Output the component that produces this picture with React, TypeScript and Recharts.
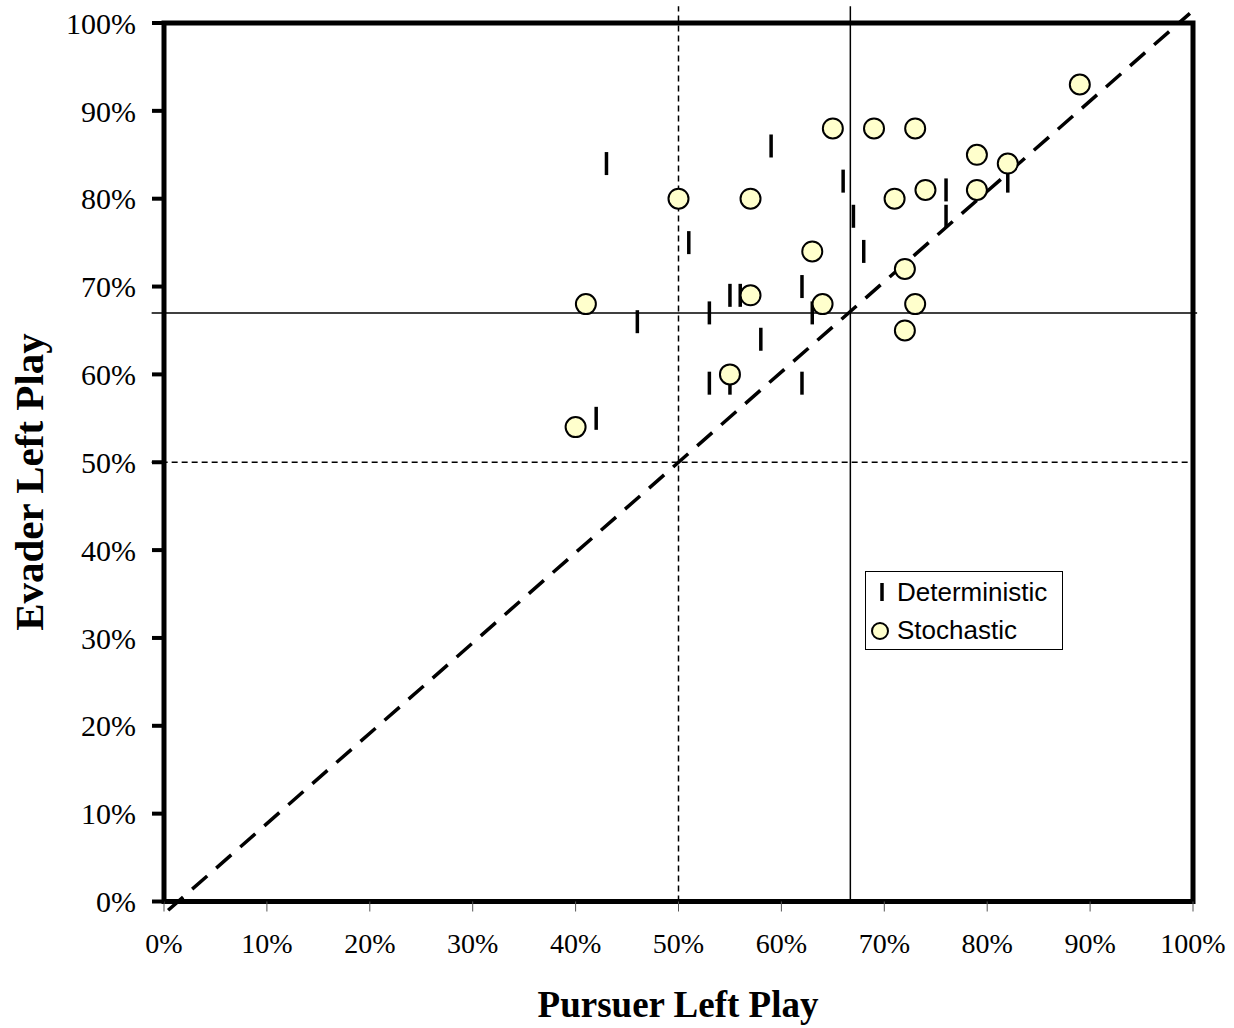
import React from 'react';
import {
  ScatterChart,
  Scatter,
  XAxis,
  YAxis,
  ReferenceLine,
  ReferenceArea,
} from 'recharts';

// values, in percent
const deterministicX = [42, 43, 46, 51, 53, 53, 55, 55, 56, 58, 59, 62, 62, 63, 66, 67, 68, 76, 76, 82];
const deterministicY = [55, 84, 66, 75, 67, 59, 69, 59, 69, 64, 86, 70, 59, 67, 82, 78, 74, 81, 78, 82];
const stochasticX = [40, 41, 50, 55, 57, 57, 63, 64, 65, 69, 71, 72, 72, 73, 73, 74, 79, 79, 82, 89];
const stochasticY = [54, 68, 80, 60, 80, 69, 74, 68, 88, 88, 80, 72, 65, 88, 68, 81, 85, 81, 84, 93];
const percentTicks = [0, 10, 20, 30, 40, 50, 60, 70, 80, 90, 100];
const meanPursuer = 66.7;
const meanEvader = 67;
const evenSplit = 50;

const deterministic = deterministicX.map((x, i) => ({ x, y: deterministicY[i] }));
const stochastic = stochasticX.map((x, i) => ({ x, y: stochasticY[i] }));

const serif = '"Liberation Serif", "Times New Roman", serif';
const sans = '"Liberation Sans", Arial, sans-serif';

const DashMark = (props: any) => {
  const { cx, cy } = props;
  return <line x1={cx} y1={cy - 11.5} x2={cx} y2={cy + 11.5} stroke="#000" strokeWidth={3.5} />;
};

const CircleMark = (props: any) => {
  const { cx, cy } = props;
  return <circle cx={cx} cy={cy} r={10} fill="#FFFFCC" stroke="#000" strokeWidth={2} />;
};

const App = () => {
  return (
    <div style={{ position: 'absolute', left: 0, top: 0, width: 1234, height: 1028, background: '#fff' }}>
      <ScatterChart width={1234} height={1028} margin={{ top: 23, right: 41, left: 44, bottom: 66.5 }}>
        <XAxis
          type="number"
          dataKey="x"
          domain={[0, 100]}
          ticks={percentTicks}
          tickFormatter={(v: number) => `${v}%`}
          axisLine={false}
          tickLine={{ stroke: '#555', strokeWidth: 1 }}
          tickSize={10}
          tickMargin={22}
          height={60}
          tick={{ fill: '#000', fontSize: 28, fontFamily: serif }}
          interval={0}
        />
        <YAxis
          type="number"
          dataKey="y"
          domain={[0, 100]}
          ticks={percentTicks}
          tickFormatter={(v: number) => `${v}%`}
          axisLine={false}
          tickLine={{ stroke: '#000', strokeWidth: 4 }}
          tickSize={12}
          tickMargin={16}
          width={120}
          tick={{ fill: '#000', fontSize: 30, fontFamily: serif }}
          interval={0}
        />
        <ReferenceArea x1={0} x2={100} y1={0} y2={100} fill="none" stroke="#000" strokeWidth={5} ifOverflow="visible" />
        <ReferenceLine
          segment={[{ x: evenSplit, y: 0 }, { x: evenSplit, y: 101.9 }]}
          stroke="#000"
          strokeWidth={1.5}
          strokeDasharray="6 4"
          ifOverflow="visible"
        />
        <ReferenceLine
          segment={[{ x: -1.2, y: evenSplit }, { x: 100, y: evenSplit }]}
          stroke="#000"
          strokeWidth={1.5}
          strokeDasharray="6 4"
          ifOverflow="visible"
        />
        <ReferenceLine
          segment={[{ x: meanPursuer, y: 0 }, { x: meanPursuer, y: 101.9 }]}
          stroke="#000"
          strokeWidth={1.5}
          ifOverflow="visible"
        />
        <ReferenceLine
          segment={[{ x: -1.2, y: meanEvader }, { x: 100.4, y: meanEvader }]}
          stroke="#000"
          strokeWidth={1.5}
          ifOverflow="visible"
        />
        <Scatter name="Deterministic" data={deterministic} shape={DashMark} isAnimationActive={false} />
        <Scatter name="Stochastic" data={stochastic} shape={CircleMark} isAnimationActive={false} />
        <ReferenceLine
          segment={[{ x: 0.4, y: -1 }, { x: 99.7, y: 101.1 }]}
          stroke="#000"
          strokeWidth={3.5}
          strokeDasharray="20 12"
          ifOverflow="visible"
        />
      </ScatterChart>

      <div
        style={{
          position: 'absolute',
          left: 29,
          top: 482,
          transform: 'translate(-50%, -50%) rotate(-90deg)',
          whiteSpace: 'nowrap',
          fontFamily: serif,
          fontWeight: 'bold',
          fontSize: 41,
          lineHeight: '41px',
        }}
      >
        Evader Left Play
      </div>
      <div
        style={{
          position: 'absolute',
          left: 678,
          top: 986,
          transform: 'translateX(-50%)',
          whiteSpace: 'nowrap',
          fontFamily: serif,
          fontWeight: 'bold',
          fontSize: 37,
          lineHeight: '37px',
        }}
      >
        Pursuer Left Play
      </div>

      <div
        style={{
          position: 'absolute',
          left: 865,
          top: 571,
          width: 198,
          height: 79,
          boxSizing: 'border-box',
          border: '1px solid #000',
          background: '#fff',
          fontFamily: sans,
          fontSize: 26,
          lineHeight: '26px',
        }}
      >
        <svg width={30} height={77} style={{ position: 'absolute', left: 0, top: 0 }}>
          <line x1={16} y1={11} x2={16} y2={29} stroke="#000" strokeWidth={3.5} />
          <circle cx={14} cy={59} r={8} fill="#FFFFCC" stroke="#000" strokeWidth={2} />
        </svg>
        <span style={{ position: 'absolute', left: 31, top: 7, whiteSpace: 'nowrap' }}>Deterministic</span>
        <span style={{ position: 'absolute', left: 31, top: 45, whiteSpace: 'nowrap' }}>Stochastic</span>
      </div>
    </div>
  );
};

export default App;
